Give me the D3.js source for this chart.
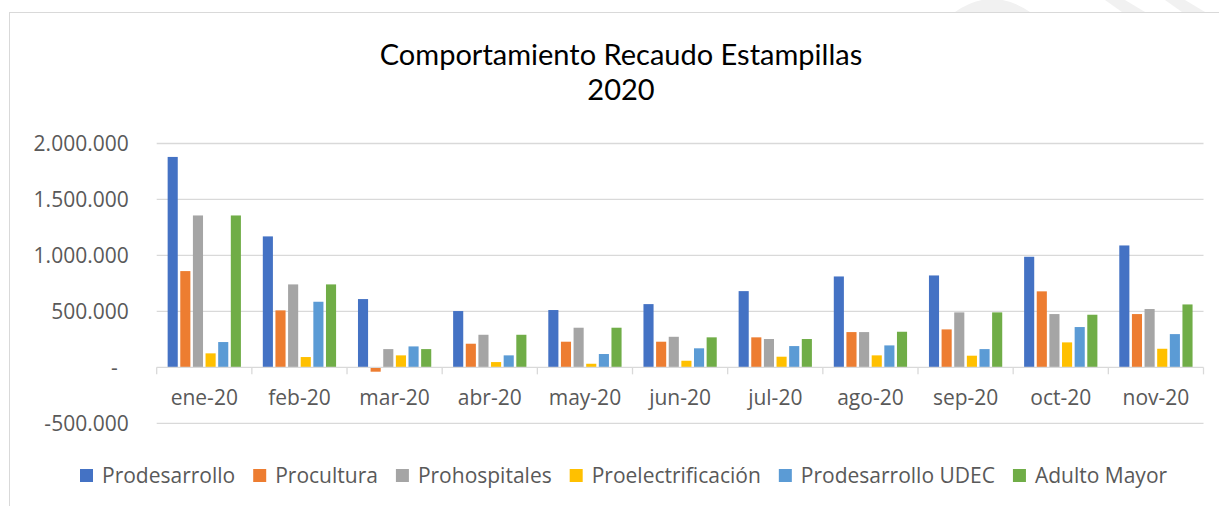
<!DOCTYPE html>
<html>
<head>
<meta charset="utf-8">
<script src="https://cdn.jsdelivr.net/npm/d3@7/dist/d3.min.js"></script>
<style>
  html, body { margin: 0; padding: 0; background: #fff; }
  svg { display: block; }
</style>
</head>
<body>
<svg id="chart" width="1219" height="506"></svg>
<script>
// Monthly stamp-tax collection, 2020
const months = ["ene-20", "feb-20", "mar-20", "abr-20", "may-20", "jun-20",
                "jul-20", "ago-20", "sep-20", "oct-20", "nov-20"];
const seriesNames = ["Prodesarrollo", "Procultura", "Prohospitales",
                     "Proelectrificación", "Prodesarrollo UDEC", "Adulto Mayor"];
const prodesarrollo     = [1880000, 1170000, 610000, 503000, 512000, 565000, 681000, 812000, 821000, 988000, 1089000];
const procultura        = [ 860000,  509000, -39000, 211000, 229000, 229000, 268000, 315000, 339000, 679000,  476000];
const prohospitales     = [1357000,  741000, 163000, 291000, 354000, 273000, 253000, 315000, 491000, 476000,  521000];
const proelectrificacion= [ 125000,   92000, 107000,  47000,  32000,  59000,  95000, 107000, 104000, 223000,  166000];
const prodesarrolloUdec = [ 226000,  586000, 187000, 107000, 119000, 170000, 190000, 196000, 163000, 360000,  297000];
const adultoMayor       = [1357000,  741000, 163000, 291000, 354000, 268000, 253000, 318000, 491000, 470000,  562000];
const yTicks = [-500000, 0, 500000, 1000000, 1500000, 2000000];
const colors = ["#4472C4", "#ED7D31", "#A5A5A5", "#FFC000", "#5B9BD5", "#70AD47"];

const seriesValues = [prodesarrollo, procultura, prohospitales,
                      proelectrificacion, prodesarrolloUdec, adultoMayor];

const svg = d3.select("#chart");
const W = 1219, H = 506;
const textFont = "'Open Sans', sans-serif";

// faint background marks above the chart frame
const bg = svg.append("g").attr("fill", "#f1f1f1");
bg.append("path").attr("d", "M955,12 Q992,-14 1030,12 Z");
bg.append("path").attr("d", "M1105,0 L1125,0 L1145,12 L1122,12 Z");
bg.append("path").attr("d", "M1165,0 L1185,0 L1205,12 L1182,12 Z");

// chart frame
svg.append("rect")
  .attr("x", 9.5).attr("y", 12.5)
  .attr("width", W + 20).attr("height", H + 20)
  .attr("fill", "#fff").attr("stroke", "#d9d9d9").attr("stroke-width", 1);

const plot = { left: 156.7, right: 1203.5, top: 143.5, bottom: 423.3 };

const x0 = d3.scaleBand().domain(months).range([plot.left, plot.right]).padding(0);
const bw = x0.bandwidth();
const x1 = d3.scaleBand().domain(d3.range(seriesNames.length))
  .range([bw * 0.115, bw * 0.885]).paddingInner(0.2).paddingOuter(0);
const y = d3.scaleLinear().domain([-500000, 2000000]).range([plot.bottom, plot.top]);

// accounting-style labels: dot thousands separator, plain hyphen, dash for zero
const fmt = v => v === 0 ? "-\u00A0\u00A0"
  : d3.format(",")(v).replace(/,/g, ".").replace("\u2212", "-");

// gridlines
svg.append("g")
  .selectAll("line").data(yTicks.filter(t => t !== 0)).join("line")
  .attr("x1", plot.left).attr("x2", plot.right)
  .attr("y1", d => y(d)).attr("y2", d => y(d))
  .attr("stroke", "#d9d9d9").attr("stroke-width", 1.3);

// y axis labels
const yAxis = svg.append("g")
  .attr("transform", `translate(${plot.left - 28},0)`)
  .call(d3.axisLeft(y).tickValues(yTicks).tickFormat(fmt).tickSize(0).tickPadding(0));
yAxis.select(".domain").remove();
yAxis.selectAll("text")
  .attr("fill", "#595959")
  .style("font-family", textFont)
  .style("font-size", "21px")
  .style("white-space", "pre");

// bars
const groups = svg.append("g").selectAll("g").data(months).join("g")
  .attr("transform", d => `translate(${x0(d)},0)`);
groups.selectAll("rect")
  .data((m, i) => seriesValues.map((vals, s) => ({ s, v: vals[i] })))
  .join("rect")
  .attr("x", d => x1(d.s))
  .attr("width", x1.bandwidth())
  .attr("y", d => y(Math.max(0, d.v)))
  .attr("height", d => Math.abs(y(d.v) - y(0)))
  .attr("fill", d => colors[d.s]);

// category axis at zero
const xAxis = svg.append("g")
  .attr("transform", `translate(0,${y(0)})`)
  .call(d3.axisBottom(x0).tickSize(0).tickPadding(0));
xAxis.select(".domain").attr("stroke", "#d9d9d9").attr("stroke-width", 1.3)
  .attr("d", `M${plot.left},0H${plot.right}`);
xAxis.selectAll(".tick line").remove();
xAxis.selectAll(".tick text")
  .attr("y", 38)
  .attr("dy", 0)
  .attr("fill", "#595959")
  .style("font-family", textFont)
  .style("font-size", "21px");
// boundary ticks between categories
xAxis.append("g").selectAll("line")
  .data(months.map(m => x0(m)).concat([plot.right])).join("line")
  .attr("x1", d => d).attr("x2", d => d)
  .attr("y1", 0).attr("y2", 7)
  .attr("stroke", "#d9d9d9").attr("stroke-width", 1.3);

// title
const title = svg.append("text")
  .attr("text-anchor", "middle")
  .attr("fill", "#000")
  .style("font-family", "Lato, sans-serif")
  .style("font-size", "29px");
title.append("tspan").attr("x", 621).attr("y", 65).text("Comportamiento Recaudo Estampillas");
title.append("tspan").attr("x", 621).attr("y", 100).text("2020");

// legend
const legend = svg.append("g").attr("transform", "translate(80,476)");
let lx = 0;
seriesNames.forEach((name, i) => {
  const item = legend.append("g").attr("transform", `translate(${lx},0)`);
  item.append("rect").attr("x", 0).attr("y", -7).attr("width", 13).attr("height", 13)
    .attr("fill", colors[i]);
  const t = item.append("text").attr("x", 22).attr("y", 7)
    .attr("fill", "#595959")
    .style("font-family", textFont)
    .style("font-size", "21px")
    .text(name);
  lx += 22 + t.node().getComputedTextLength() + 18;
});
</script>
</body>
</html>
